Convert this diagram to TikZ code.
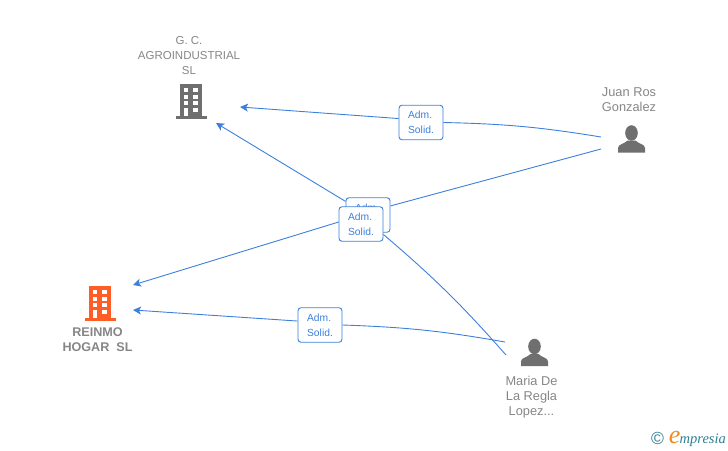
\documentclass[tikz,border=0pt]{standalone}
\usepackage{fontspec}
\setmainfont{Liberation Sans}
\newfontfamily\logofont{Liberation Serif}
\usetikzlibrary{arrows.meta}
\definecolor{linkblue}{HTML}{3C80DC}
\definecolor{txtgray}{HTML}{868686}
\definecolor{icongray}{HTML}{6F6F6F}
\definecolor{firmorange}{HTML}{FF5C26}
\definecolor{logoteal}{HTML}{2F7F93}
\definecolor{logoorange}{HTML}{F08A1D}
\tikzset{
  caption/.style={text=txtgray, font=\fontsize{11.5}{15}\selectfont, align=center},
  bigcaption/.style={caption, font=\fontsize{12.8}{15}\selectfont},
  role/.style={draw=linkblue, fill=white, rounded corners=3pt, line width=0.9pt, text=linkblue,
    minimum width=44pt, minimum height=34.5pt, inner sep=0pt, align=left,
    font=\fontsize{10.3}{15}\selectfont},
  link/.style={draw=linkblue, line width=0.9pt},
  tip/.style={-{Stealth[length=8pt,width=8pt,inset=2pt]}},
  pics/firm/.style={code={
    \fill[#1] (-11,-16) rectangle (11,15.5);
    \fill[#1] (-15.5,15.5) rectangle (15.5,18.5);
    \foreach \y in {-12,-5.5,1} {
      \foreach \x in {-7,2.3} {
        \fill[white] (\x,\y) rectangle +(4.3,4.2);
      }
    }
    \fill[white] (-7,8) rectangle (-2.7,15.5);
    \fill[white] (2.3,8) rectangle (6.6,12.2);
  }},
  pics/person/.style={code={
    \fill[icongray] (0,-0.5) ellipse (6.3 and 7.8);
    \fill[icongray] (-13.5,19) -- (-13.5,14.5) .. controls (-13.5,10.5) and (-7,10.5) .. (-4,7)
      -- (4,7) .. controls (7,10.5) and (13.5,10.5) .. (13.5,14.5) -- (13.5,19) -- cycle;
  }},
}
\begin{document}
\begin{tikzpicture}[x=1pt,y=-1pt]
  \useasboundingbox (0,0) rectangle (728,450);
  % companies
  \pic at (191,100) {firm=icongray};
  \pic at (100,302) {firm=firmorange};
  \node[caption] (gc) at (189,56) {G. C.\\AGROINDUSTRIAL\\SL};
  \node[bigcaption,font=\fontsize{12.6}{15}\selectfont\bfseries] (reinmo) at (97.5,339.5) {REINMO\\HOGAR\ \ SL};
  % people
  \pic at (631.5,133.5) {person};
  \pic at (534.5,347) {person};
  \node[bigcaption] (juan) at (629,100) {Juan Ros\\Gonzalez};
  \node[bigcaption] (maria) at (531.5,397) {Maria De\\La Regla\\Lopez...};
  % connector ends
  \coordinate (gcA) at (240,107);
  \coordinate (gcB) at (216,123);
  \coordinate (reA) at (133,285);
  \coordinate (reB) at (133,310);
  \coordinate (juanA) at (601,137);
  \coordinate (juanB) at (601,149);
  \coordinate (mariaA) at (506,355);
  \coordinate (mariaB) at (505,342);
  % role boxes
  \node[role] (roleA) at (421,122.5) {Adm.\\Solid.};
  \node[role] (roleB) at (368,215) {Adm.\\Solid.};
  \node[role] (roleC) at (361,224) {Adm.\\Solid.};
  \node[role] (roleD) at (320,325) {Adm.\\Solid.};
  % links
  \draw[link] (juanA) to[bend right=4] (roleA.east);
  \draw[link,tip] (roleA.170) -- (gcA);
  \draw[link] (juanB) -- (roleB.22);
  \draw[link,tip] (roleC.175) -- (reA);
  \draw[link] (mariaA) to[bend right=4] (roleC.-25);
  \draw[link,tip] (roleB) -- (gcB);
  \draw[link] (mariaB) to[bend right=4] (roleD.east);
  \draw[link,tip] (roleD.170) -- (reB);
  % logo
  \node[text=logoteal,font=\fontsize{17.5}{18}\selectfont,inner sep=0pt] (copy) at (657.5,438.5) {©};
  \node[text=logoteal,font=\logofont\itshape\fontsize{14.5}{15}\selectfont,anchor=base west,inner sep=0pt] (brand) at (679.5,443) {mpresia};
  \node[text=logoorange,font=\logofont\itshape\fontsize{26}{26}\selectfont,anchor=base east,inner sep=0pt] (brandE) at ([xshift=1pt]brand.base west) {e};
\end{tikzpicture}
\end{document}
